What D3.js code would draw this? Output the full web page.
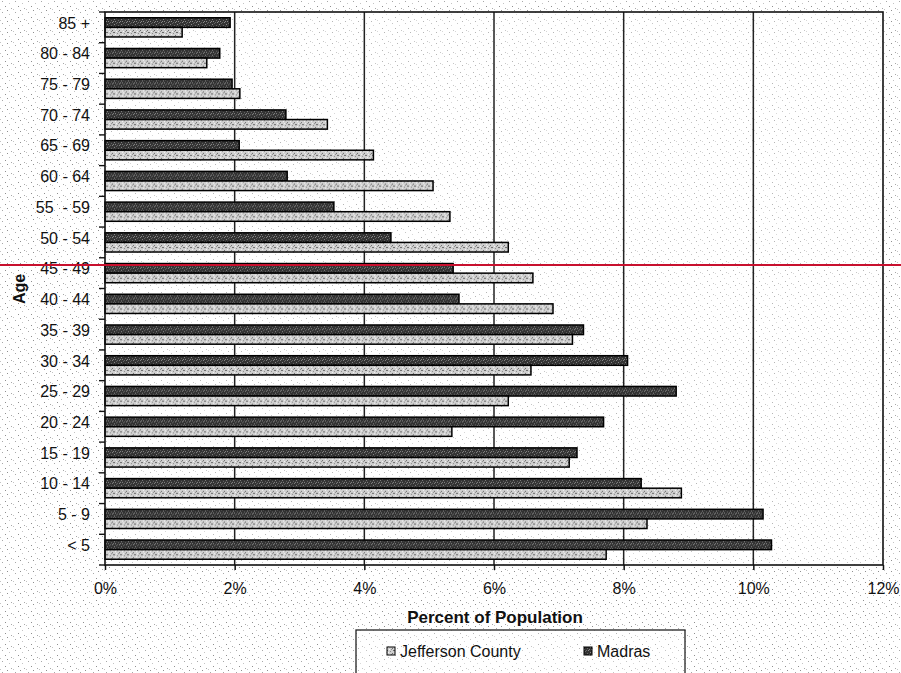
<!DOCTYPE html>
<html>
<head>
<meta charset="utf-8">
<script src="https://cdn.jsdelivr.net/npm/d3@7/dist/d3.min.js"></script>
<style>
  html, body { margin: 0; padding: 0; background: #fff; }
  svg { display: block; }
  text { font-family: "Liberation Sans", Arial, sans-serif; fill: #111; }
</style>
</head>
<body>
<svg id="chart" width="901" height="673"></svg>
<script>
// Age groups, top to bottom
const ageGroups = ["85 +", "80 - 84", "75 - 79", "70 - 74", "65 - 69", "60 - 64", "55  - 59",
  "50 - 54", "45 - 49", "40 - 44", "35 - 39", "30 - 34", "25 - 29", "20 - 24",
  "15 - 19", "10 - 14", "5 - 9", "< 5"];

// Percent of population in each age group
const madras = [1.93, 1.77, 1.96, 2.79, 2.07, 2.81, 3.53, 4.41, 5.37, 5.46,
  7.38, 8.06, 8.81, 7.69, 7.28, 8.27, 10.15, 10.28];
const jeffersonCounty = [1.19, 1.57, 2.08, 3.43, 4.14, 5.06, 5.32, 6.22, 6.60, 6.91,
  7.21, 6.57, 6.22, 5.35, 7.16, 8.89, 8.36, 7.73];

const xTicks = [0, 2, 4, 6, 8, 10, 12];
const seriesNames = ["Madras", "Jefferson County"];
const legendOrder = ["Jefferson County", "Madras"];

const svg = d3.select("#chart");
const W = 901, H = 673;
const plot = { left: 105, right: 883, top: 12, bottom: 565 };

// Textures: paper speckle and halftone bar fills
const defs = svg.append("defs");
function speckle(id, size, base, dots, dotColor) {
  const p = defs.append("pattern").attr("id", id)
    .attr("width", size[0]).attr("height", size[1]).attr("patternUnits", "userSpaceOnUse");
  p.append("rect").attr("width", size[0]).attr("height", size[1]).attr("fill", base);
  dots.forEach(([px, py], i) => {
    p.append("rect").attr("x", px).attr("y", py).attr("width", 1).attr("height", 1)
      .attr("fill", Array.isArray(dotColor) ? dotColor[i % dotColor.length] : dotColor);
  });
}
speckle("paper", [13, 11], "#fff",
  [[2, 1], [9, 3], [5, 6], [11, 8], [0, 9], [7, 10]], ["#a8a8a8", "#c4c4c4", "#8f8f8f"]);
speckle("darkFill", [7, 5], "#333",
  [[0, 0], [4, 1], [2, 2], [6, 3], [1, 4], [5, 0], [3, 4]], ["#8a8a8a", "#666"]);
speckle("lightFill", [7, 5], "#d0d0d0",
  [[1, 0], [5, 1], [3, 2], [0, 3], [6, 4], [4, 4], [2, 0]], ["#6a6a6a", "#8c8c8c", "#f4f4f4"]);

const fills = { "Madras": "url(#darkFill)", "Jefferson County": "url(#lightFill)" };
const values = { "Madras": madras, "Jefferson County": jeffersonCounty };

svg.append("rect").attr("width", W).attr("height", H).attr("fill", "url(#paper)");

// Scales
const x = d3.scaleLinear().domain([0, 12]).range([plot.left, plot.right]);
const y0 = d3.scaleBand().domain(ageGroups).range([plot.top, plot.bottom]).padding(0);
const y1 = d3.scaleBand().domain(seriesNames).range([0, y0.bandwidth()])
  .paddingInner(0).paddingOuter(0.6);

// Plot background
svg.append("rect")
  .attr("x", plot.left).attr("y", plot.top)
  .attr("width", plot.right - plot.left).attr("height", plot.bottom - plot.top)
  .attr("fill", "rgba(255,255,255,0.35)");

// Vertical gridlines
svg.append("g").selectAll("line").data(xTicks.filter(t => t > 0 && t < 12)).join("line")
  .attr("x1", d => x(d)).attr("x2", d => x(d))
  .attr("y1", plot.top).attr("y2", plot.bottom)
  .attr("stroke", "#222").attr("stroke-width", 1.5);

// Bars
const groups = svg.append("g").selectAll("g").data(ageGroups).join("g")
  .attr("transform", d => `translate(0,${y0(d)})`);
groups.selectAll("rect")
  .data((d, i) => seriesNames.map(s => ({ s, v: values[s][i] })))
  .join("rect")
  .attr("x", x(0))
  .attr("y", d => y1(d.s))
  .attr("width", d => x(d.v) - x(0))
  .attr("height", y1.bandwidth())
  .attr("fill", d => fills[d.s])
  .attr("stroke", "#000").attr("stroke-width", 1.5);

// Plot frame
svg.append("rect")
  .attr("x", plot.left).attr("y", plot.top)
  .attr("width", plot.right - plot.left).attr("height", plot.bottom - plot.top)
  .attr("fill", "none").attr("stroke", "#111").attr("stroke-width", 1.6);

// Bottom axis
const xAxis = d3.axisBottom(x).tickValues(xTicks).tickFormat(d => d + "%")
  .tickSize(5).tickPadding(13);
const gx = svg.append("g").attr("transform", `translate(0,${plot.bottom})`).call(xAxis);
gx.select(".domain").remove();
gx.selectAll(".tick line").attr("stroke", "#111").attr("stroke-width", 1.5);
gx.selectAll(".tick text").attr("font-size", 16).attr("fill", "#111")
  .style("font-family", "'Liberation Sans', Arial, sans-serif");

// Left axis: ticks sit between age groups
const yTickPos = ageGroups.map(d => y0(d)).concat([plot.bottom]);
svg.append("g").selectAll("line").data(yTickPos).join("line")
  .attr("x1", plot.left - 6).attr("x2", plot.left)
  .attr("y1", d => d).attr("y2", d => d)
  .attr("stroke", "#111").attr("stroke-width", 1.4);
svg.append("g").selectAll("text").data(ageGroups).join("text")
  .attr("x", 90)
  .attr("y", d => y0(d) + y0.bandwidth() / 2 - 3)
  .attr("text-anchor", "end").attr("dominant-baseline", "middle")
  .attr("font-size", 16)
  .style("white-space", "pre")
  .text(d => d);

// Axis titles
svg.append("text")
  .attr("transform", `translate(25,${289}) rotate(-90)`)
  .attr("text-anchor", "middle").attr("font-size", 16).attr("font-weight", "bold")
  .text("Age");
svg.append("text")
  .attr("x", 495).attr("y", 623)
  .attr("text-anchor", "middle").attr("font-size", 17).attr("font-weight", "bold")
  .text("Percent of Population");

// Legend
const legend = svg.append("g");
legend.append("rect")
  .attr("x", 356).attr("y", 630).attr("width", 329).attr("height", 52)
  .attr("fill", "rgba(255,255,255,0.35)").attr("stroke", "#222").attr("stroke-width", 1.3);
const legendX = { "Jefferson County": 387, "Madras": 584 };
legendOrder.forEach(s => {
  legend.append("rect")
    .attr("x", legendX[s]).attr("y", 647).attr("width", 8).attr("height", 8)
    .attr("fill", fills[s]).attr("stroke", "#000").attr("stroke-width", 1);
  legend.append("text")
    .attr("x", legendX[s] + 13).attr("y", 657)
    .attr("font-size", 16).text(s);
});

// Red reference line across the chart
svg.append("line")
  .attr("x1", 0).attr("x2", W)
  .attr("y1", 265).attr("y2", 265)
  .attr("stroke", "#c8102e").attr("stroke-width", 2);
</script>
</body>
</html>
